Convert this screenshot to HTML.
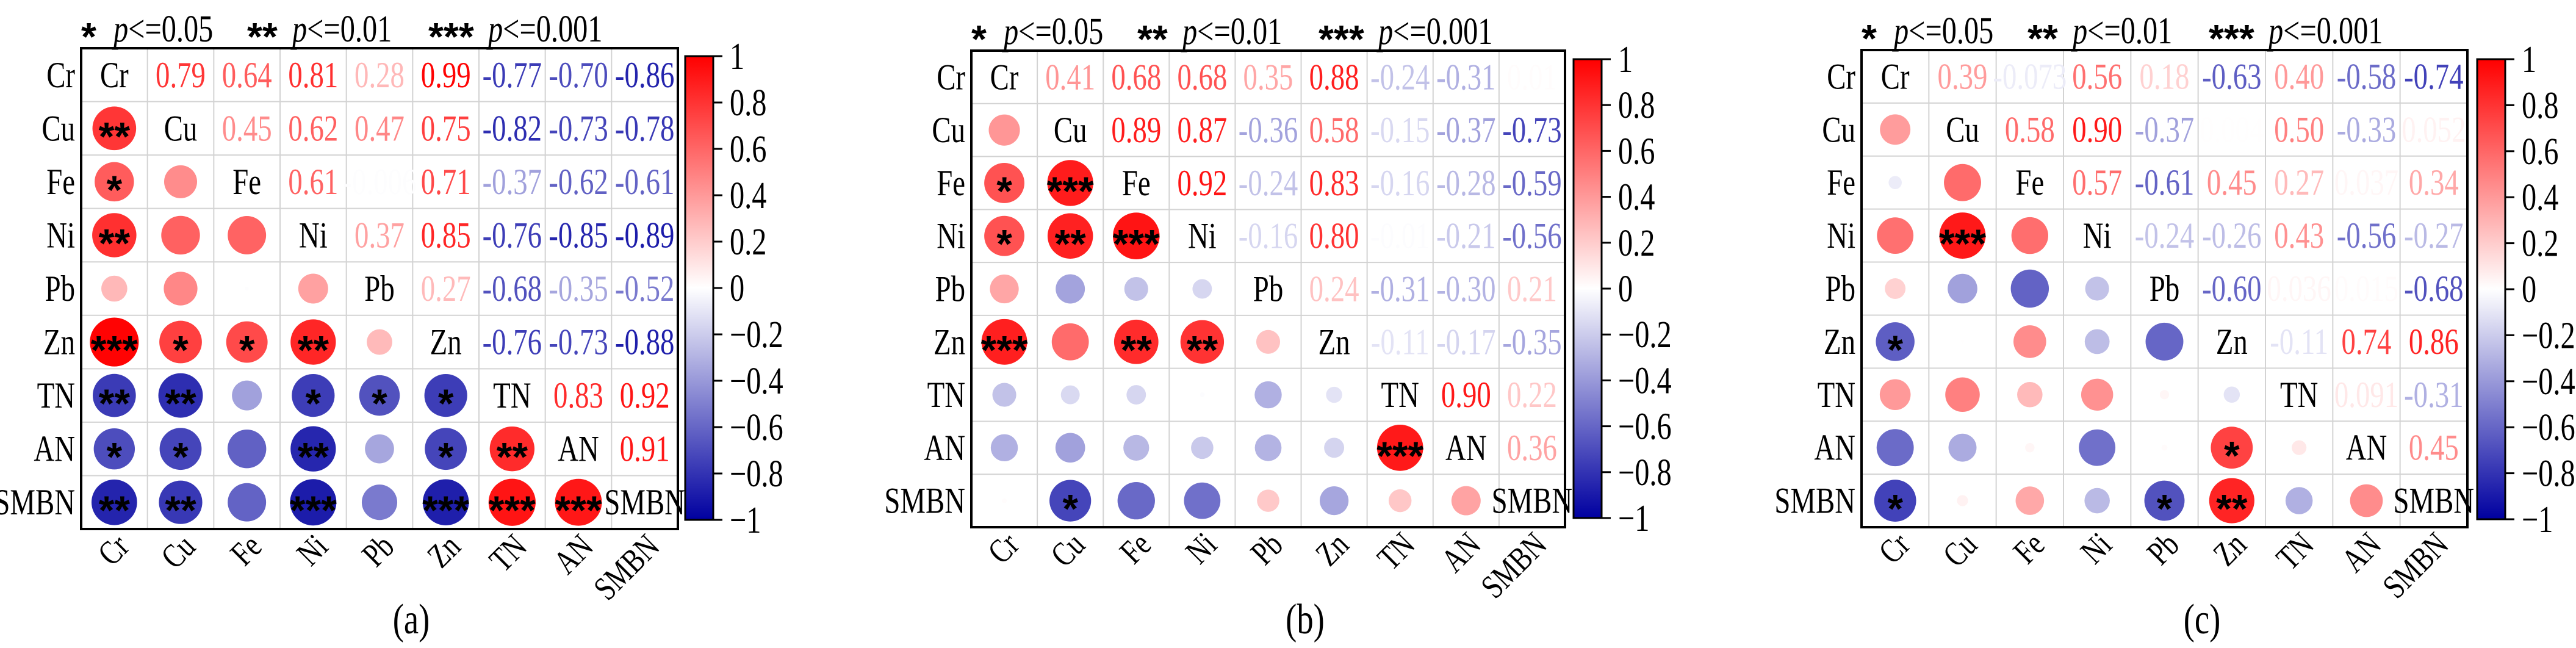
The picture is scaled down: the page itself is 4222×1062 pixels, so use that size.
<!DOCTYPE html>
<html><head><meta charset="utf-8"><style>
html,body{margin:0;padding:0;background:#fff;width:4222px;height:1062px;overflow:hidden}
svg{display:block}
</style></head><body>
<svg id="fig" width="4222" height="1062" viewBox="0 0 4222 1062" xmlns="http://www.w3.org/2000/svg">
<defs>
<linearGradient id="cbgrad" x1="0" y1="0" x2="0" y2="1">
<stop offset="0" stop-color="#ff0000"/><stop offset="0.5" stop-color="#ffffff"/><stop offset="1" stop-color="#0000a0"/>
</linearGradient>
</defs>
</svg>
<script>
const vars = ["Cr","Cu","Fe","Ni","Pb","Zn","TN","AN","SMBN"];
const colorTicks = [1,0.8,0.6,0.4,0.2,0,-0.2,-0.4,-0.6,-0.8,-1];
const valuesA = [
 [0.79,0.64,0.81,0.28,0.99,-0.77,-0.70,-0.86],
 [0.45,0.62,0.47,0.75,-0.82,-0.73,-0.78],
 [0.61,-0.006,0.71,-0.37,-0.62,-0.61],
 [0.37,0.85,-0.76,-0.85,-0.89],
 [0.27,-0.68,-0.35,-0.52],
 [-0.76,-0.73,-0.88],
 [0.83,0.92],
 [0.91]];
const valuesB = [
 [0.41,0.68,0.68,0.35,0.88,-0.24,-0.31,0.01],
 [0.89,0.87,-0.36,0.58,-0.15,-0.37,-0.73],
 [0.92,-0.24,0.83,-0.16,-0.28,-0.59],
 [-0.16,0.80,-0.01,-0.21,-0.56],
 [0.24,-0.31,-0.30,0.21],
 [-0.11,-0.17,-0.35],
 [0.90,0.22],
 [0.36]];
const valuesC = [
 [0.39,-0.073,0.56,0.18,-0.63,0.40,-0.58,-0.74],
 [0.58,0.90,-0.37,0.004,0.50,-0.33,0.052],
 [0.57,-0.61,0.45,0.27,0.037,0.34],
 [-0.24,-0.26,0.43,-0.56,-0.27],
 [-0.60,0.036,0.015,-0.68],
 [-0.11,0.74,0.86],
 [0.091,-0.31],
 [0.45]];
const starsA = [[1,0,2],[2,0,1],[3,0,2],[5,0,3],[5,1,1],[5,2,1],[5,3,2],[6,0,2],[6,1,2],[6,3,1],[6,4,1],[6,5,1],[7,0,1],[7,1,1],[7,3,2],[7,5,1],[7,6,2],[8,0,2],[8,1,2],[8,3,3],[8,5,3],[8,6,3],[8,7,3]];
const starsB = [[2,0,1],[2,1,3],[3,0,1],[3,1,2],[3,2,3],[5,0,3],[5,2,2],[5,3,2],[7,6,3],[8,1,1]];
const starsC = [[3,1,3],[5,0,1],[7,5,1],[8,0,1],[8,4,1],[8,5,2]];
const panelLabels = ["(a)","(b)","(c)"];

const layouts = [
 {x0:133,y0:79,x1:1111,y1:867,cbx:1123,cby0:92,cby1:852,capx:674},
 {x0:1592,y0:83,x1:2565,y1:864,cbx:2579,cby0:97,cby1:849,capx:2139},
 {x0:3051,y0:82,x1:4044,y1:864,cbx:4060,cby0:97,cby1:851,capx:3609}
];
const NS="http://www.w3.org/2000/svg";
const svg=document.getElementById('fig');
const SX=0.78;
function mk(tag,attrs,parent){const e=document.createElementNS(NS,tag);for(const k in attrs)e.setAttribute(k,attrs[k]);(parent||svg).appendChild(e);return e;}
function txt(x,y,str,attrs,parent,rot){
 const a=Object.assign({x:0,y:0,'font-family':SERIF,fill:'#000'},attrs);
 a.transform=`translate(${x} ${y})`+(rot?` rotate(${rot})`:'')+` scale(${SX} 1)`;
 const t=mk('text',a,parent);t.textContent=str;return t;
}
function color(v){
 if(v>=0){const c=Math.round(255*(1-v));return `rgb(255,${c},${c})`;}
 const a=-v;const c=Math.round(255*(1-a));const b=Math.round(255-a*95);return `rgb(${c},${c},${b})`;
}
function fmt(v){return Math.abs(v)>=0.1?v.toFixed(2):String(v);}
function getVal(vals,i,j){if(i===j)return 1;const a=Math.min(i,j),b=Math.max(i,j);return vals[a][b-a-1];}
const SERIF='"Liberation Serif", "Noto Serif CJK SC", serif';
const SANS='"Liberation Sans", sans-serif';

function drawPanel(p,vals,stars,label){
 const L=layouts[p];const n=vars.length;
 const cw=(L.x1-L.x0)/n,ch=(L.y1-L.y0)/n;
 const xs=j=>L.x0+cw*(j+0.5), ys=i=>L.y0+ch*(i+0.5);
 const g=mk('g',{});
 
 
 for(let k=1;k<n;k++){
  mk('line',{x1:L.x0+cw*k,x2:L.x0+cw*k,y1:L.y0,y2:L.y1,stroke:'#d3d3d3','stroke-width':2},g);
  mk('line',{y1:L.y0+ch*k,y2:L.y0+ch*k,x1:L.x0,x2:L.x1,stroke:'#d3d3d3','stroke-width':2},g);
 }
 for(let i=0;i<n;i++)for(let j=0;j<n;j++){
  const v=getVal(vals,i,j);
  if(i===j){
   const t=txt(xs(j),ys(i)+20,vars[i],{'text-anchor':'middle','font-size':60},g);
   
   
  }else if(j>i){
   const t=txt(xs(j),ys(i)+20,fmt(v),{'text-anchor':'middle','font-size':60,fill:color(v)},g);
   
   
  }else{
   const r=ch*0.46*Math.sqrt(Math.abs(v));
   const c=mk('circle',{cx:xs(j),cy:ys(i),r:r,fill:color(v)},g);
   
   
  }
 }
 stars.forEach(s=>{
  const t=mk('text',{x:xs(s[1]),y:ys(s[0])+36,'text-anchor':'middle','font-family':SANS,'font-weight':'bold','font-size':66,fill:'#000'},g);
  t.textContent='*'.repeat(s[2]);
  
  
 });
 const box=mk('rect',{x:L.x0,y:L.y0,width:L.x1-L.x0,height:L.y1-L.y0,fill:'none',stroke:'#000','stroke-width':4},g);
 
 
 vars.forEach((name,i)=>{
  const t=txt(L.x0-10,ys(i)+20,name,{'text-anchor':'end','font-size':60},g);
  
  
  const u=txt(xs(i)+27,L.y1+32,name,{'text-anchor':'end','font-size':56},g,-45);
  
  
 });
 const hy=L.y0-11;
 const parts=[[0,'*',1],[53,'p<=0.05',0],[272,'**',1],[346,'p<=0.01',0],[569,'***',1],[667,'p<=0.001',0]];
 parts.forEach(pt=>{
  let t;
  if(pt[2]){
   t=mk('text',{x:L.x0+pt[0],y:hy+14,'font-family':SANS,'font-weight':'bold','font-size':64,fill:'#000'},g);
   t.textContent=pt[1];
  }else{
   t=txt(L.x0+pt[0],hy,'',{'font-size':62},g);
   t.innerHTML='<tspan font-style="italic">p</tspan>&lt;=' + pt[1].slice(3);
  }
  
  
 });
 const cbw=46;
 const cb=mk('rect',{x:L.cbx,y:L.cby0,width:cbw,height:L.cby1-L.cby0,fill:'url(#cbgrad)',stroke:'#000','stroke-width':3},g);
 
 
 colorTicks.forEach(tv=>{
  const y=L.cby0+(1-tv)/2*(L.cby1-L.cby0);
  mk('line',{x1:L.cbx+cbw,x2:L.cbx+cbw+15,y1:y,y2:y,stroke:'#000','stroke-width':3},g);
  const t=txt(L.cbx+cbw+27,y+21,(tv<0?'\u2212':'')+String(Math.abs(tv)),{'font-size':62},g);
  
  
 });
 const cap=txt(L.capx,1038,label,{'text-anchor':'middle','font-size':70},g);
 
 
}
drawPanel(0,valuesA,starsA,panelLabels[0]);
drawPanel(1,valuesB,starsB,panelLabels[1]);
drawPanel(2,valuesC,starsC,panelLabels[2]);
</script>
</body></html>
